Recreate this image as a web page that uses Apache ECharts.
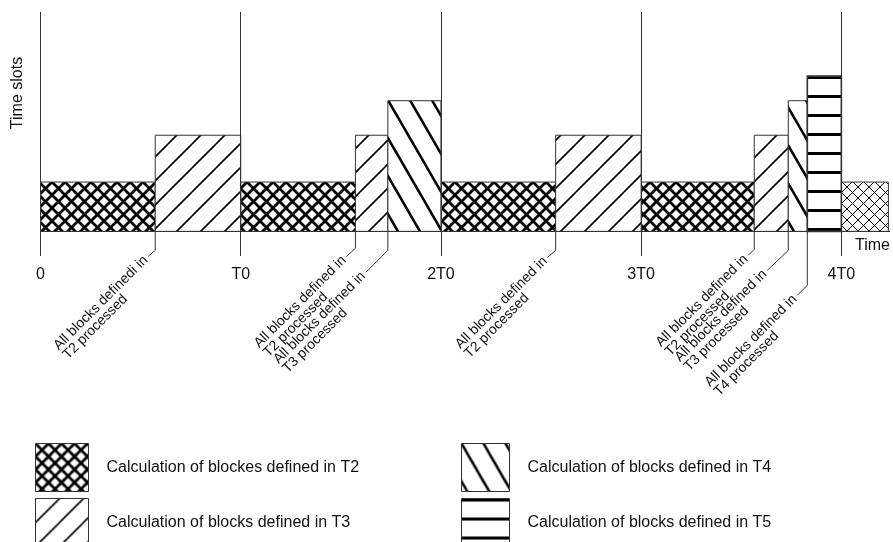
<!DOCTYPE html>
<html style="height: 100%">
<head>
    <meta charset="utf-8">
    <script src="https://cdn.jsdelivr.net/npm/echarts@6.0.0/dist/echarts.min.js"></script>
</head>
<body style="height: 100%; margin: 0">
    <div id="chart" style="width: 893px; height: 542px"></div>
    <script type="text/javascript">
        // x is in units of T0, heights are in time slots
        var tickValues = [0, 1, 2, 3, 4];
        var tickLabels = ['0', 'T0', '2T0', '3T0', '4T0'];
        var t2Blocks = [[0, 0.573, 2], [1, 1.573, 2], [2, 2.573, 2], [3, 3.565, 2]];
        var t2NextBlocks = [[4, 4.235, 2]];
        var t3Blocks = [[0.573, 1, 3.9], [1.573, 1.735, 3.9], [2.573, 3, 3.9], [3.565, 3.735, 3.9]];
        var t4Blocks = [[1.735, 2, 5.3], [3.735, 3.83, 5.3]];
        var t5Blocks = [[3.83, 4, 6.3]];
        var eventX = [0.573, 1.573, 1.735, 2.573, 3.565, 3.735, 3.83];
        var eventText = [
            'All blocks definedi in\nT2 processed',
            'All blocks defined in\nT2 processed',
            'All blocks defined in\nT3 processed',
            'All blocks defined in\nT2 processed',
            'All blocks defined in\nT2 processed',
            'All blocks defined in\nT3 processed',
            'All blocks defined in\nT4 processed'
        ];
        var legendNames = [
            'Calculation of blockes defined in T2',
            'Calculation of blocks defined in T3',
            'Calculation of blocks defined in T4',
            'Calculation of blocks defined in T5'
        ];

        // leader lines: drop below the baseline, then a short slant (px)
        var leaders = [[19, -7, 6], [17, -9, 8], [19, -22, 22], [19, -8, 7], [18, -6, 6], [19, -21, 20], [54, -10, 10]];
        // legend slots: [left, top]
        var legendSlots = [[35, 443], [35, 498], [461, 443], [461, 498]];

        var FONT = '"Liberation Sans", Arial, sans-serif';

        function tile(w, h, draw) {
            var c = document.createElement('canvas');
            c.width = w;
            c.height = h;
            var g = c.getContext('2d');
            g.fillStyle = '#fff';
            g.fillRect(0, 0, w, h);
            g.strokeStyle = '#000';
            g.fillStyle = '#000';
            draw(g, w, h);
            return { image: c, repeat: 'repeat' };
        }
        function diag(g, w, h, up) {
            g.beginPath();
            for (var i = -1; i <= 1; i++) {
                for (var j = -1; j <= 1; j++) {
                    if (up) {
                        g.moveTo(i * w, j * h + h);
                        g.lineTo(i * w + w, j * h);
                    } else {
                        g.moveTo(i * w, j * h);
                        g.lineTo(i * w + w, j * h + h);
                    }
                }
            }
            g.stroke();
        }
        var crossHeavy = tile(13, 13, function (g, w, h) {
            g.lineWidth = 2.8;
            diag(g, w, h, true);
            diag(g, w, h, false);
        });
        var crossLight = tile(11, 11, function (g, w, h) {
            g.lineWidth = 1;
            diag(g, w, h, true);
            diag(g, w, h, false);
        });
        var slash = tile(24, 24, function (g, w, h) {
            g.lineWidth = 1.6;
            diag(g, w, h, true);
        });
        var backslash = tile(22, 38, function (g, w, h) {
            g.lineWidth = 2.6;
            diag(g, w, h, false);
        });
        var bars = tile(10, 19, function (g, w, h) {
            g.fillRect(0, 0, w, 3);
        });

        var measureCtx = document.createElement('canvas').getContext('2d');
        measureCtx.font = '14px ' + FONT;

        function blockSeries(name, data, fill, lw) {
            return {
                type: 'custom',
                name: name,
                data: data,
                itemStyle: { color: fill, borderColor: '#333', borderWidth: lw },
                encode: { x: [0, 1], y: 2 },
                renderItem: function (params, api) {
                    var p0 = api.coord([api.value(0), 0]);
                    var p1 = api.coord([api.value(1), api.value(2)]);
                    return {
                        type: 'rect',
                        shape: { x: p0[0], y: p1[1], width: p1[0] - p0[0], height: p0[1] - p1[1] },
                        style: { fill: fill, stroke: '#333', lineWidth: lw }
                    };
                }
            };
        }

        var myChart = echarts.init(document.getElementById('chart'));
        myChart.setOption({
            animation: false,
            grid: { left: 40.5, right: 3, top: 12, bottom: 286, outerBoundsMode: 'none' },
            xAxis: {
                type: 'value', min: 0, max: 4.243, interval: 1,
                axisLine: { show: false }, axisTick: { show: false }, splitLine: { show: false },
                axisLabel: {
                    margin: 11, fontSize: 16, color: '#111', fontFamily: FONT,
                    formatter: function (v) {
                        var i = tickValues.indexOf(v);
                        return i < 0 ? '' : tickLabels[i];
                    }
                }
            },
            yAxis: { type: 'value', min: -1, max: 8.9, show: false },
            legend: legendNames.map(function (name, i) {
                return {
                    left: legendSlots[i][0], top: legendSlots[i][1], padding: 0, icon: 'rect',
                    itemWidth: i < 2 ? 53 : 48, itemHeight: 48, selectedMode: false,
                    itemStyle: { borderColor: '#333', borderWidth: 1 },
                    textStyle: { fontSize: 16, color: '#111', fontFamily: FONT, padding: [0, 0, 12, 13] },
                    data: [name]
                };
            }),
            graphic: [{
                type: 'text', x: 18, y: 93, rotation: Math.PI / 2,
                style: { text: 'Time slots', font: '16px ' + FONT, fill: '#111', align: 'center', verticalAlign: 'middle' }
            }, {
                type: 'text', right: 3, top: 238,
                style: { text: 'Time', font: '16px ' + FONT, fill: '#111' }
            }],
            series: [
                blockSeries(legendNames[0], t2Blocks, crossHeavy, 1),
                blockSeries('T2 next', t2NextBlocks, crossLight, 1),
                blockSeries(legendNames[1], t3Blocks, slash, 1),
                blockSeries(legendNames[2], t4Blocks, backslash, 1),
                blockSeries(legendNames[3], t5Blocks, bars, 1.6),
                {
                    type: 'custom',
                    name: 'events',
                    data: eventX.map(function (x) { return [x]; }),
                    encode: { x: 0 },
                    renderItem: function (params, api) {
                        var i = params.dataIndex;
                        var base = api.coord([api.value(0), 0]);
                        var l = leaders[i];
                        var p1 = [base[0], base[1] + l[0]];
                        var p2 = [p1[0] + l[1], p1[1] + l[2]];
                        var w1 = measureCtx.measureText(eventText[i].split('\n')[0]).width;
                        return {
                            type: 'group',
                            children: [{
                                type: 'polyline',
                                shape: { points: [base, p1, p2] },
                                style: { stroke: '#333', lineWidth: 1, fill: null }
                            }, {
                                type: 'text',
                                x: p2[0], y: p2[1], rotation: Math.PI / 4,
                                style: {
                                    text: eventText[i], x: -w1 - 3, y: -7,
                                    font: '14px ' + FONT, lineHeight: 13, fill: '#111',
                                    align: 'left', verticalAlign: 'top'
                                }
                            }]
                        };
                    },
                    markLine: {
                        silent: true, symbol: 'none', label: { show: false },
                        lineStyle: { type: 'solid', color: '#333', width: 1 },
                        data: tickValues.map(function (v) { return { xAxis: v }; }).concat([{ yAxis: 0 }])
                    }
                }
            ]
        });
    </script>
</body>
</html>
